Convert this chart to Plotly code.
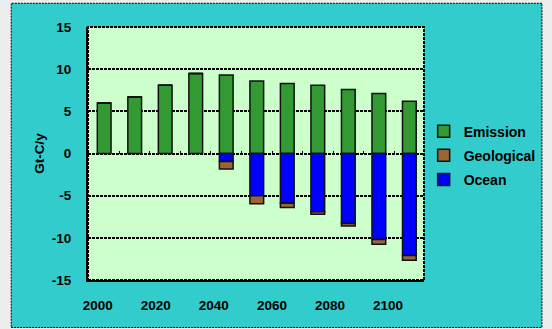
import plotly.graph_objects as go

# Carbon budget by decade (Gt-C per year)
years = [2000, 2010, 2020, 2030, 2040, 2050, 2060, 2070, 2080, 2090, 2100]
emission = [6.0, 6.7, 8.1, 9.5, 9.3, 8.6, 8.3, 8.1, 7.6, 7.1, 6.2]
ocean = [0, 0, 0, 0, -0.95, -5.0, -5.9, -6.9, -8.3, -10.2, -12.1]
geological = [0, 0, 0, 0, -0.9, -0.95, -0.5, -0.3, -0.3, -0.55, -0.55]

year_labels = [2000, 2020, 2040, 2060, 2080, 2100]
y_ticks = [-15, -10, -5, 0, 5, 10, 15]
decade_bounds = [y + 5 for y in years[:-1]]

GREEN = "#339933"
BROWN = "#996633"
BLUE = "#0000FF"
PLOT_BG = "#CCFFCC"
PANEL = "#33CCCC"

FONT = dict(family="Liberation Sans, Arial, sans-serif", size=13.5, color="black", weight="bold")
OUTLINE = dict(color="#111111", width=1.5)

fig = go.Figure()
fig.add_bar(x=years, y=emission, name="Emission", marker=dict(color=GREEN, line=OUTLINE),
            width=4.5, legendrank=1, legendgroup="e")
fig.add_bar(x=years, y=ocean, name="Ocean", marker=dict(color=BLUE, line=OUTLINE),
            width=4.5, legendrank=3, legendgroup="o")
fig.add_bar(x=years, y=geological, name="Geological", marker=dict(color=BROWN, line=OUTLINE),
            width=4.5, legendrank=2, legendgroup="g")
# invisible trace that carries the year label scale
fig.add_scatter(x=[year_labels[0]], y=[0], xaxis="x2", mode="markers",
                marker=dict(opacity=0), showlegend=False, hoverinfo="skip")

fig.update_layout(
    width=552, height=329,
    margin=dict(l=88, r=127, t=27, b=49),
    barmode="relative",
    paper_bgcolor="#ededed",
    plot_bgcolor="rgba(0,0,0,0)",
    font=FONT,
    showlegend=True,
    legend=dict(x=0.996, xanchor="left", y=0.65, yanchor="top",
                bgcolor="rgba(0,0,0,0)", font=dict(size=14),
                traceorder="grouped", tracegroupgap=3),
    xaxis=dict(range=[1994.7, 2104.8], anchor="free", position=0.5,
               showline=False, showgrid=False, zeroline=False,
               showticklabels=False, ticks="inside", ticklen=3, tickwidth=1,
               tickcolor="black", tickvals=decade_bounds),
    xaxis2=dict(range=[1996.67, 2112.36], overlaying="x", side="bottom", anchor="y",
                showgrid=False, zeroline=False, tickvals=year_labels, ticks="",
                ticklabelstandoff=12, showline=True, linecolor="black", linewidth=2),
    yaxis=dict(range=[-15, 15], tickvals=y_ticks, ticktext=[str(v) for v in y_ticks],
               showgrid=True, gridcolor="black",
               gridwidth=1.7, griddash="3px,1px", zeroline=False, ticks="",
               ticklabelstandoff=12, showline=True, linecolor="black", linewidth=2,
               title=dict(text="Gt-C/y", standoff=4, font=dict(size=13.5))),
    shapes=[
        dict(type="rect", xref="paper", yref="paper", x0=-0.2285, x1=1.351,
             y0=-0.1877, y1=1.0937, fillcolor=PANEL, layer="below",
             line=dict(color="black", width=1, dash="2px,1px")),
        dict(type="rect", xref="paper", yref="paper", x0=0, x1=1, y0=0, y1=1,
             fillcolor=PLOT_BG, layer="below",
             line=dict(color="black", width=2, dash="3px,1px")),
    ],
)

fig.write_html("out.html")
